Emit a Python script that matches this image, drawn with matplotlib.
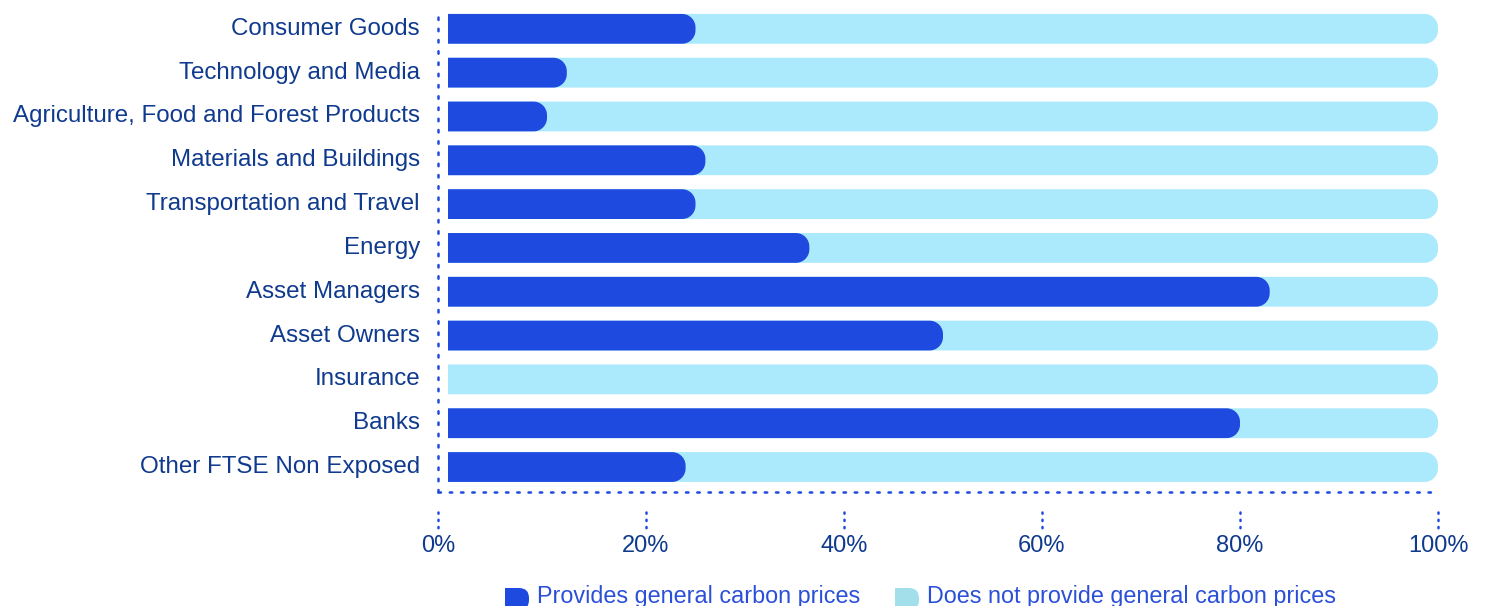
import numpy as np
import matplotlib
matplotlib.use("Agg")
import matplotlib.pyplot as plt
from matplotlib.patches import PathPatch, FancyBboxPatch, Rectangle
from matplotlib.path import Path
from matplotlib.transforms import blended_transform_factory, ScaledTranslation

plt.rcParams['font.family'] = ['Liberation Sans', 'DejaVu Sans']

categories = [
    "Consumer Goods",
    "Technology and Media",
    "Agriculture, Food and Forest Products",
    "Materials and Buildings",
    "Transportation and Travel",
    "Energy",
    "Asset Managers",
    "Asset Owners",
    "Insurance",
    "Banks",
    "Other FTSE Non Exposed",
]
provides = [25, 12, 10, 26, 25, 36.5, 83, 50, 0, 80, 24]
does_not = [100 - v for v in provides]
tick_values = [0, 20, 40, 60, 80, 100]
tick_labels = ["0%", "20%", "40%", "60%", "80%", "100%"]
legend_labels = ["Provides general carbon prices", "Does not provide general carbon prices"]

DARK = "#1f4ae0"
LIGHT = "#abeafd"
LIGHT_KEY = "#a2dfea"
NAVY = "#0f3a8e"
LEGEND_TXT = "#2a4fd8"

W, H = 1486, 606
fig = plt.figure(figsize=(W / 100, H / 100), dpi=100)

# axes box in pixel coordinates
ax_l, ax_r, ax_t, ax_b = 438, 1438, 10, 492
ax = fig.add_axes([ax_l / W, 1 - ax_b / H, (ax_r - ax_l) / W, (ax_b - ax_t) / H])

x_lo = -1.0101
ax.set_xlim(x_lo, 100)
n = len(categories)
y_top, y_bot = -0.43, n - 1 + 0.57
ax.set_ylim(y_bot, y_top)

px_per_x = (ax_r - ax_l) / (100 - x_lo)
px_per_y = (ax_b - ax_t) / (y_bot - y_top)

bar_h = 0.68
radius_px = 13.5


def right_rounded_bar(y, start, length, color, z):
    """Bar with a square left end and rounded right corners."""
    if length <= 0:
        return
    r_x = min(radius_px / px_per_x, length)
    r_y = min(radius_px / px_per_y, bar_h / 2)
    y0, y1 = y - bar_h / 2, y + bar_h / 2
    end = start + length
    cx = end - r_x
    t1 = np.linspace(-np.pi / 2, 0, 20)
    t2 = np.linspace(0, np.pi / 2, 20)
    verts = [(start, y0), (cx, y0)]
    verts += [(cx + r_x * np.cos(t), y0 + r_y + r_y * np.sin(t)) for t in t1]
    verts += [(cx + r_x * np.cos(t), y1 - r_y + r_y * np.sin(t)) for t in t2]
    verts += [(start, y1), (start, y0)]
    codes = [Path.MOVETO] + [Path.LINETO] * (len(verts) - 2) + [Path.CLOSEPOLY]
    ax.add_patch(PathPatch(Path(verts, codes), facecolor=color,
                           edgecolor="none", zorder=z))


for i, (p, d) in enumerate(zip(provides, does_not)):
    right_rounded_bar(i, 0, p + d, LIGHT, 2)
    right_rounded_bar(i, 0, p, DARK, 3)

for s in ["top", "right"]:
    ax.spines[s].set_visible(False)
ax.spines["left"].set_position(("data", x_lo))
for s in ["left", "bottom"]:
    ax.spines[s].set_linestyle((0, (1, 3.5)))
    ax.spines[s].set_linewidth(1.8)
    ax.spines[s].set_color(DARK)
    ax.spines[s].set_capstyle("round")
ax.spines["left"].set_bounds(y_bot, -0.33)
ax.spines["bottom"].set_bounds(x_lo, 99.8)
ax.set_facecolor("none")

ax.set_yticks(range(n))
ax.set_yticklabels(categories)
ax.tick_params(axis="y", length=0, pad=13, labelsize=17.4, labelcolor=NAVY)
lift = ScaledTranslation(0, 2.5 / 100, fig.dpi_scale_trans)
for lbl in ax.get_yticklabels():
    lbl.set_transform(lbl.get_transform() + lift)

# the 0% label sits under the dotted left axis line
tick_pos = [x_lo if t == 0 else t for t in tick_values]
ax.set_xticks(tick_pos)
ax.set_xticklabels(tick_labels)
ax.tick_params(axis="x", length=0, pad=31, labelsize=17, labelcolor=NAVY)

# short dotted markers above each percentage label
trans = blended_transform_factory(ax.transData, ax.transAxes)
for xt in tick_pos:
    ax.plot([xt, xt], [-20 / (ax_b - ax_t), -36 / (ax_b - ax_t)], transform=trans,
            color=DARK, lw=1.8, linestyle=(0, (0.5, 2.4)), clip_on=False,
            dash_capstyle="round")

# legend drawn in figure pixel space
legend_ax = fig.add_axes([0, 0, 1, 1], zorder=-1)
legend_ax.set_xlim(0, W)
legend_ax.set_ylim(H, 0)
legend_ax.axis("off")
keys = [(505, DARK, legend_labels[0]), (895, LIGHT_KEY, legend_labels[1])]
for x0, col, lab in keys:
    legend_ax.add_patch(FancyBboxPatch((x0, 588), 24, 22,
                                       boxstyle="round,pad=0,rounding_size=10",
                                       facecolor=col, edgecolor="none"))
    legend_ax.add_patch(Rectangle((x0, 588), 12, 22, facecolor=col, edgecolor="none"))
    legend_ax.text(x0 + 32, 597, lab, fontsize=16.8, color=LEGEND_TXT,
                   va="center", ha="left")

fig.savefig("out.png", dpi=100)
